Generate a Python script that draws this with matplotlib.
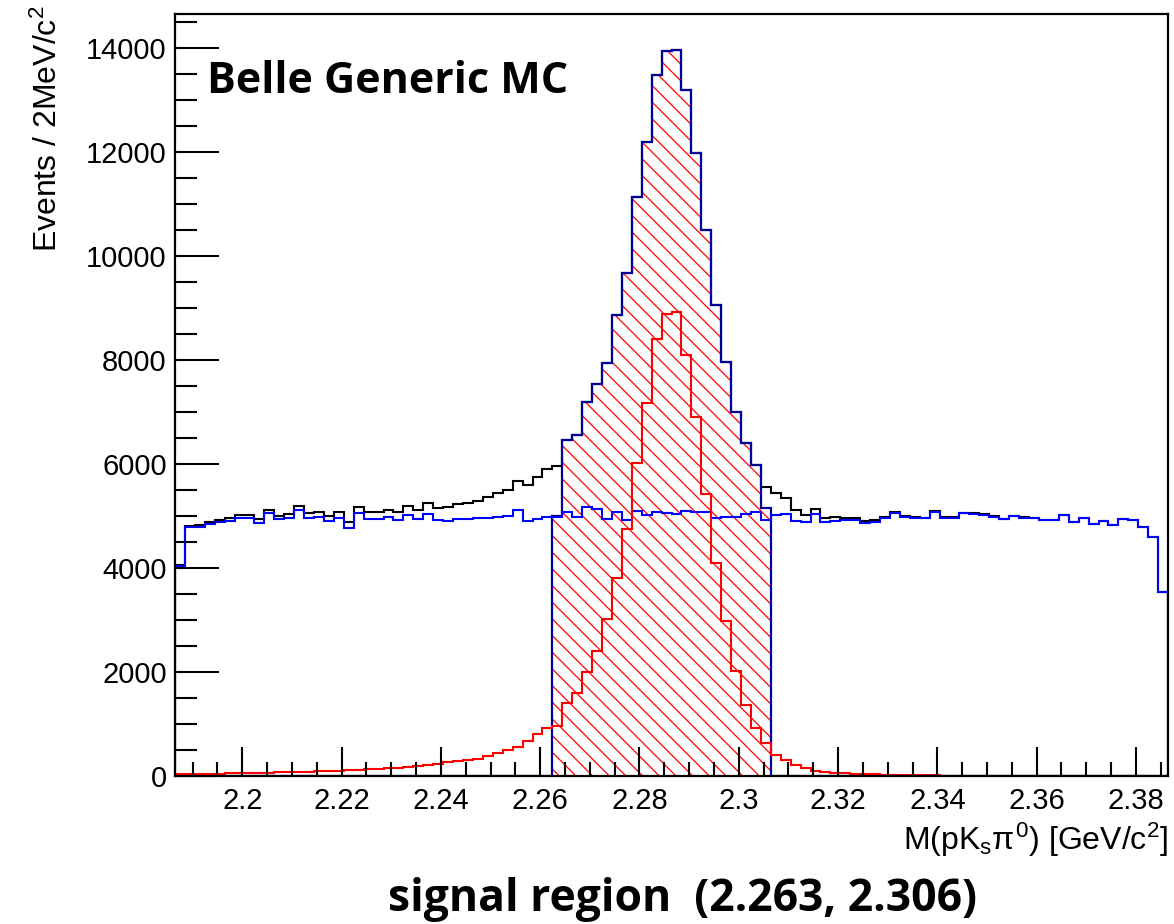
import matplotlib
matplotlib.use("Agg")
import matplotlib.pyplot as plt
import numpy as np
from matplotlib.ticker import MultipleLocator

# binning: 100 bins of 2 MeV around the Lambda_c mass
m_lo = 2.18646
bin_width = 0.002
n_bins = 100

# background (blue)
background = [
    4035, 4778, 4791, 4842, 4886, 4905, 4956, 4956, 4873, 5057,
    4937, 4968, 5108, 4968, 4981, 4905, 4968, 4766, 5060, 4936,
    4936, 4974, 4923, 5019, 4936, 5038, 4923, 4904, 4942, 4942,
    4968, 4968, 4987, 5000, 5115, 4910, 4942, 4974, 4987, 5071,
    4974, 5180, 5128, 4936, 5071, 4923, 5103, 5019, 5071, 5064,
    5038, 5096, 5083, 5071, 4968, 4974, 4987, 5038, 5071, 4923,
    5025, 5038, 4910, 4878, 5032, 4891, 4910, 4917, 4923, 4872,
    4885, 4955, 5051, 4974, 4968, 4955, 5077, 4968, 4968, 5051,
    5045, 5025, 4987, 4936, 4994, 4968, 4955, 4923, 4930, 5019,
    4878, 4955, 4853, 4904, 4821, 4942, 4923, 4789, 4603, 3545,
]

# signal (red)
signal = [
    30, 38, 38, 40, 45, 50, 55, 60, 62, 65,
    70, 75, 80, 85, 95, 100, 105, 110, 118, 130,
    141, 147, 154, 165, 186, 218, 224, 263, 288, 314,
    320, 391, 449, 490, 560, 680, 800, 930, 965, 1398,
    1590, 2006, 2404, 3013, 3802, 4744, 6025, 7179, 8398, 8884,
    8929, 8096, 6898, 5423, 4090, 2987, 2019, 1365, 917, 641,
    410, 300, 202, 145, 94, 72, 60, 50, 42, 36,
    30, 26, 22, 18, 15, 12, 10, 8, 7, 6,
    5, 4, 3, 3, 2, 2, 1, 1, 1, 1,
    0, 0, 0, 0, 0, 0, 0, 0, 0, 0,
]

sig_region = (2.263, 2.306)
# the two partial bins at the edges of the signal region
edge_counts = [4990, 5150]

edges = m_lo + bin_width * np.arange(n_bins + 1)
background = np.array(background, dtype=float)
signal = np.array(signal, dtype=float)
total = background + signal

in_region = (edges[1:] > sig_region[0]) & (edges[:-1] < sig_region[1])
region_hist = np.where(in_region, total, 0.0)
idx = np.where(in_region)[0]
region_hist[idx[0]] = edge_counts[0]
region_hist[idx[-1]] = edge_counts[1]

plt.rcParams['font.family'] = ['Liberation Sans', 'DejaVu Sans']
plt.rcParams['hatch.linewidth'] = 0.9
plt.rcParams['mathtext.fontset'] = 'custom'
plt.rcParams['mathtext.rm'] = 'Liberation Sans'
plt.rcParams['mathtext.it'] = 'Liberation Sans'

fig = plt.figure(figsize=(11.74, 9.24), dpi=100)
ax = fig.add_axes([0.1491, 0.1602, 0.8458, 0.8246])

ax.stairs(total, edges, color='black', linewidth=1.5)
ax.stairs(region_hist, edges, fill=True, facecolor='none', edgecolor='#ff0000',
          hatch='\\\\', linewidth=0)
ax.stairs(region_hist, edges, color='#000099', linewidth=1.6)
ax.stairs(background, edges, color='#0000ff', linewidth=1.5)
ax.stairs(signal, edges, color='#ff0000', linewidth=1.5)

ax.set_xlim(edges[0], edges[-1])
ax.set_ylim(0, 14650)

ax.xaxis.set_major_locator(MultipleLocator(0.02))
ax.xaxis.set_minor_locator(MultipleLocator(0.005))
ax.yaxis.set_major_locator(MultipleLocator(2000))
ax.yaxis.set_minor_locator(MultipleLocator(500))
ax.xaxis.set_major_formatter(plt.FuncFormatter(lambda v, p: ('%.2f' % v).rstrip('0').rstrip('.')))
ax.tick_params(which='both', direction='in', top=False, right=False, width=1.5)
ax.tick_params(axis='x', which='major', length=21, labelsize=21, pad=8)
ax.tick_params(axis='x', which='minor', length=10)
ax.tick_params(axis='y', which='major', length=32, labelsize=21, pad=6)
ax.tick_params(axis='y', which='minor', length=16)
for s in ax.spines.values():
    s.set_linewidth(1.6)

ax.set_ylabel('Events / 2MeV/c$^2$', fontsize=23, loc='top')
ax.yaxis.set_label_coords(-0.112, 1.012)
ax.set_xlabel(r'M(pK$_s\pi^0$) [GeV/c$^2$]', fontsize=23, loc='right', labelpad=4)

ax.text(0.032, 0.912, 'Belle Generic MC', transform=ax.transAxes, fontsize=31,
        fontweight='bold', family='Open Sans', va='center', ha='left')
fig.text(0.581, 0.027, 'signal region  (2.263, 2.306)', fontsize=32,
         fontweight='bold', family='Open Sans', ha='center', va='center')

fig.savefig('out.png', dpi=100)
